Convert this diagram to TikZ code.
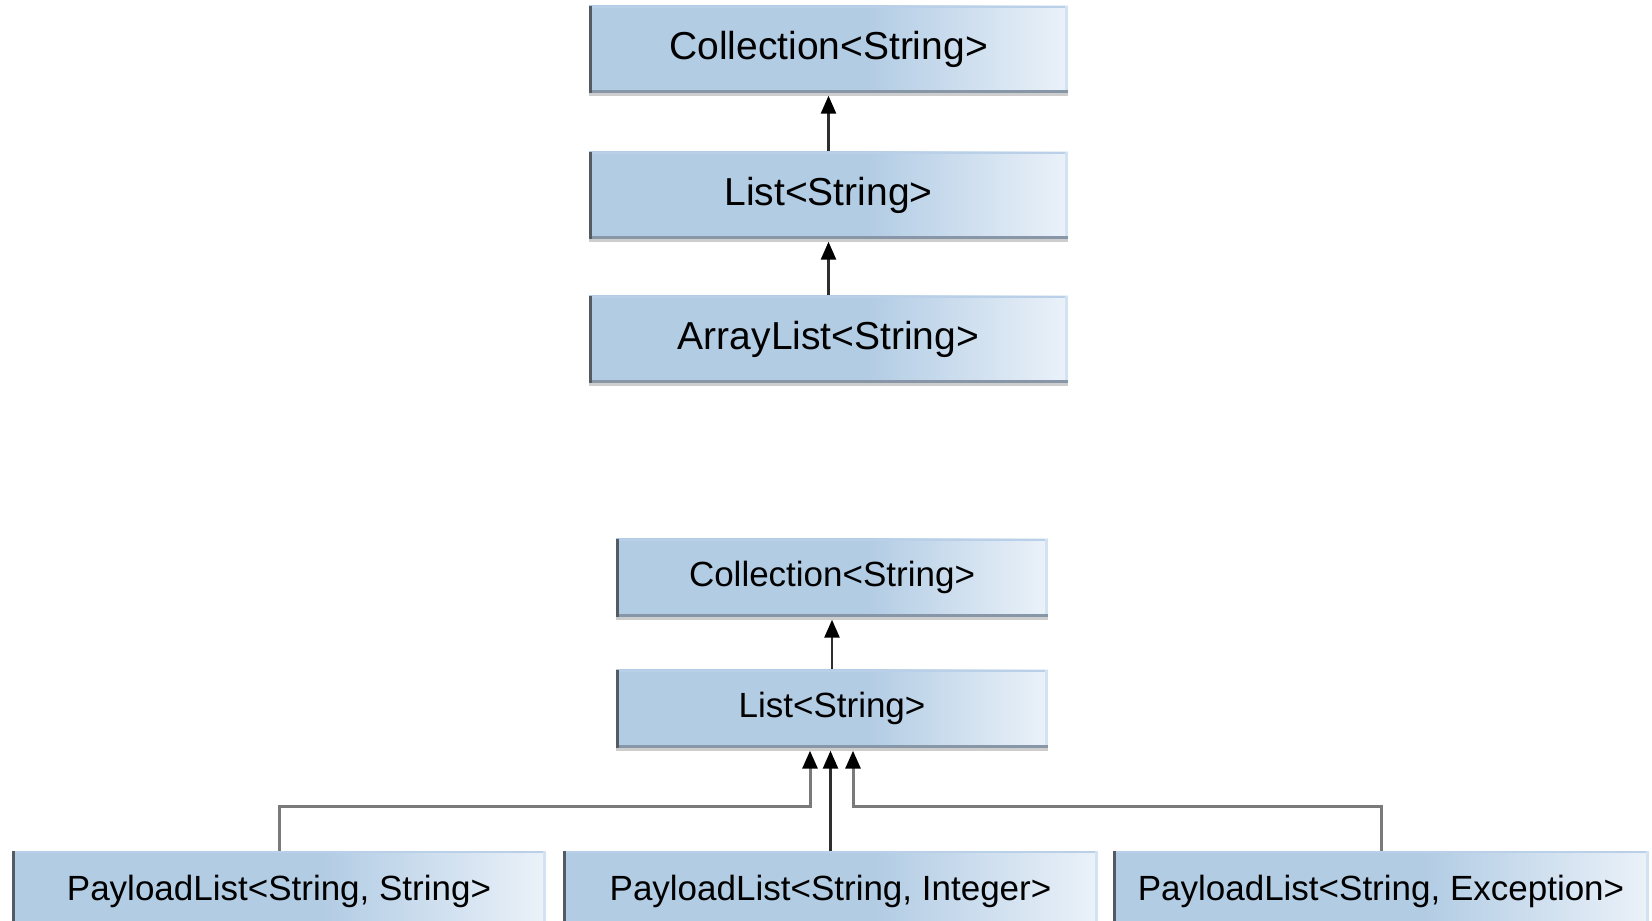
\documentclass[tikz,border=0pt]{standalone}
\usepackage{fontspec}
\setmainfont{Liberation Sans}
\usetikzlibrary{arrows.meta,shadows,calc}
\definecolor{bxblue}{HTML}{B2CCE4}
\definecolor{bxwhite}{HTML}{F0F5FB}
\definecolor{edgeleft}{HTML}{545B63}
\definecolor{edgebot}{HTML}{8797A8}
\definecolor{shadowgrey}{HTML}{CDCDCD}
\definecolor{edgetop}{HTML}{B9D0E8}
\definecolor{edgeright}{HTML}{D3E1F0}
\definecolor{linedark}{HTML}{2E2E2E}
\definecolor{linegrey}{HTML}{7A7A7A}
\pgfdeclarehorizontalshading{boxshade}{100bp}{color(0bp)=(bxblue); color(54bp)=(bxblue); color(77bp)=(bxwhite); color(100bp)=(bxwhite)}
\tikzset{
  cls/.style={rectangle, inner sep=0pt, shade, shading=boxshade, text=black,
    drop shadow={shadow xshift=0pt, shadow yshift=-3pt, fill=shadowgrey, opacity=1},
    path picture={
      \fill[edgetop] (path picture bounding box.north west) rectangle ([yshift=-2pt]path picture bounding box.north east);
      \fill[edgeright] ([xshift=-3pt]path picture bounding box.north east) rectangle (path picture bounding box.south east);
      \fill[edgebot] ([yshift=3pt]path picture bounding box.south west) rectangle (path picture bounding box.south east);
      \fill[edgeleft] (path picture bounding box.north west) rectangle ([xshift=3pt]path picture bounding box.south west);
    }},
  bigcls/.style={cls, minimum width=479pt, minimum height=87pt, font=\fontsize{39}{39}\selectfont},
  midcls/.style={cls, minimum width=432pt, minimum height=78pt, font=\fontsize{35}{35}\selectfont},
  rowcls/.style={cls, minimum width=535pt, minimum height=80pt, font=\fontsize{35}{35}\selectfont},
  darkarr/.style={draw=linedark, line width=2.6pt, -{Triangle[width=15pt,length=18pt,color=black]}},
  greyarr/.style={draw=linegrey, line width=3pt, -{Triangle[width=15pt,length=18pt,color=black]}},
}
\begin{document}
\begin{tikzpicture}[x=1pt,y=-1pt]
\useasboundingbox (0,0) rectangle (1652,921);
\clip (0,0) rectangle (1652,921);
% top hierarchy
\node[bigcls] (tc) at (828.5,49) {Collection<String>};
\node[bigcls] (tl) at (828.5,195) {List<String>};
\node[bigcls] (ta) at (828.5,339) {ArrayList<String>};
\draw[darkarr] (tl.north) -- ($(tc.south)+(0,3)$);
\draw[darkarr] (ta.north) -- ($(tl.south)+(0,3)$);
% bottom hierarchy
\node[midcls] (bc) at (832,577.5) {Collection<String>};
\node[midcls] (bl) at (832,708.5) {List<String>};
\node[rowcls, minimum width=534pt] (p1) at (279,891) {PayloadList<String, String>};
\node[rowcls] (p2) at (830.5,891) {PayloadList<String, Integer>};
\node[rowcls, minimum width=536pt] (p3) at (1381,891) {PayloadList<String, Exception>};
\coordinate (hy) at (0,806);
\draw[darkarr] (bl.north) -- ($(bc.south)+(0,3)$);
\draw[greyarr] (p1.north) -- (p1.north |- hy) -| ($(bl.south)+(-22,3)$);
\draw[greyarr] (p3.north) -- (p3.north |- hy) -| ($(bl.south)+(21,3)$);
\draw[darkarr] (p2.north) -- ($(p2.north |- bl.south)+(0,3)$);
\end{tikzpicture}
\end{document}
